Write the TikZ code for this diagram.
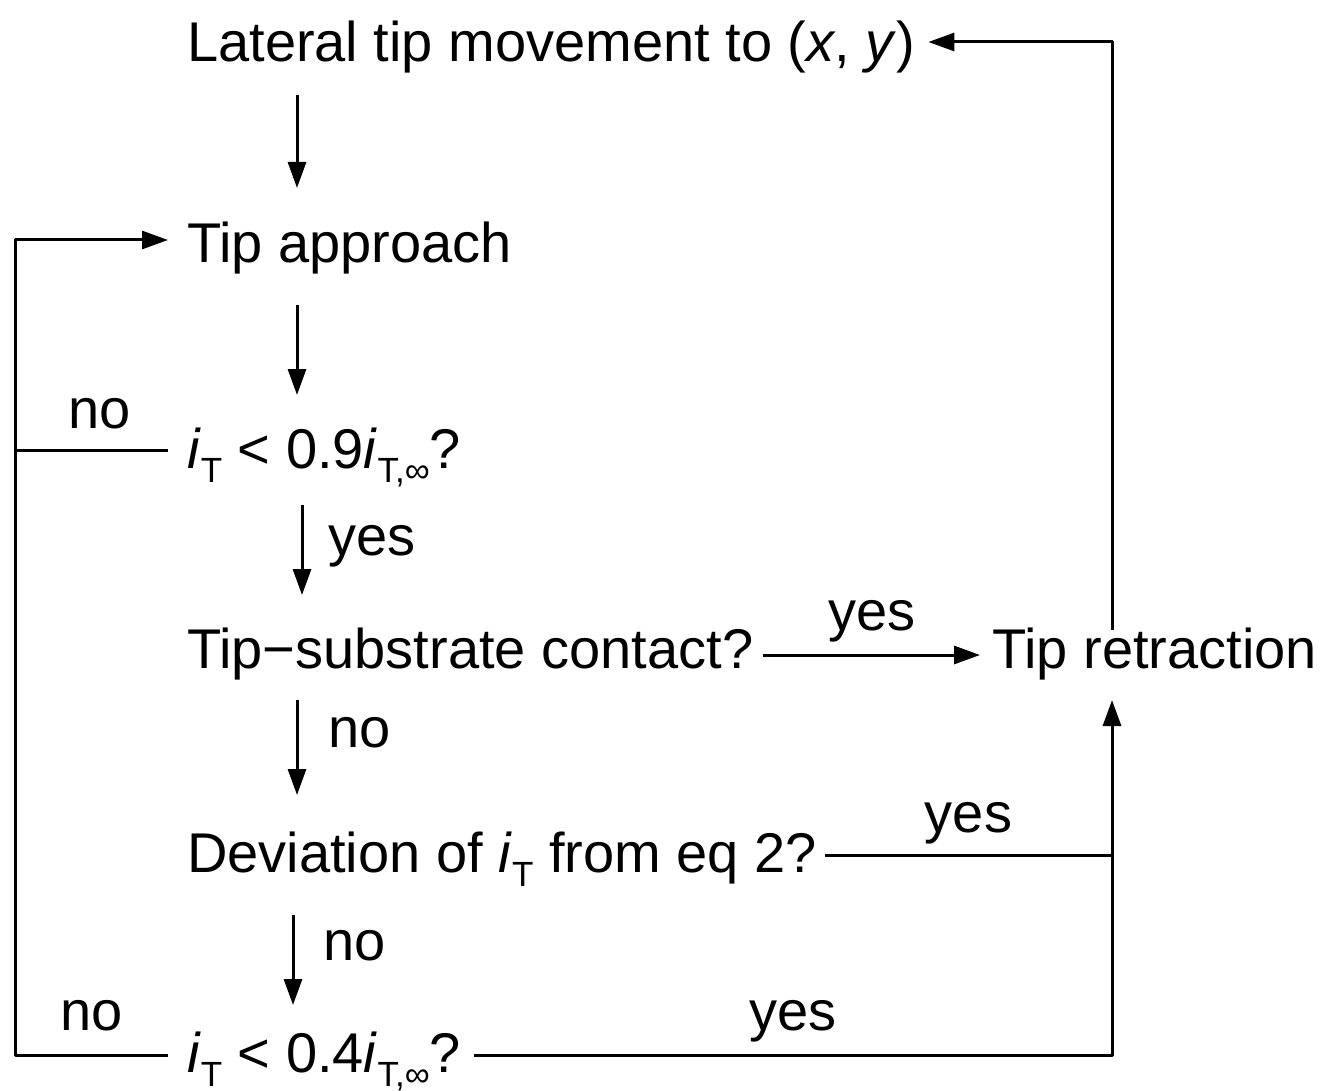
\documentclass[tikz,border=0pt]{standalone}
\usepackage{fontspec}
\setmainfont{Liberation Sans}
\usetikzlibrary{arrows.meta}
\newcommand\subT[1]{\raisebox{-0.25em}{\fontsize{35}{35}\selectfont #1}}
\newcommand\iT{\textit{i}\subT{T}}
\newcommand\iTinf{\textit{i}\subT{T,∞}}
\begin{document}
\begin{tikzpicture}[x=1pt,y=-1pt,
  txt/.style={anchor=base west,inner sep=0pt,font=\fontsize{56}{67}\selectfont},
  lbl/.style={inner sep=0pt,font=\fontsize{56}{67}\selectfont},
  line/.style={line width=3pt,line join=round},
  arr/.style={line,-{Triangle[length=26pt,width=18pt]}}]
\useasboundingbox (0,0) rectangle (1321,1091);

% nodes
\node[txt] (lat) at (187,62) {Lateral tip movement to (\textit{x}, \textit{y})};
\node[txt] (app) at (187,262) {Tip approach};
\node[txt] (q1)  at (187,468) {\iT\ < 0.9\iTinf?};
\node[txt] (tsc) at (187,668) {Tip−substrate contact?};
\node[txt] (ret) at (992,668) {Tip retraction};
\node[txt] (dev) at (187,872) {Deviation of \iT\ from eq 2?};
\node[txt] (q2)  at (187,1072) {\iT\ < 0.4\iTinf?};

% helper coordinates
\coordinate (lx) at (15,0);
\coordinate (rx) at ([xshift=120pt]ret.base west);
\coordinate (q1L) at ([xshift=-19pt,yshift=18pt]q1.base west);
\coordinate (q2L) at ([xshift=-19pt,yshift=17pt]q2.base west);
\coordinate (appL) at ([xshift=-19pt,yshift=22pt]app.base west);
\coordinate (latR) at ([xshift=13pt,yshift=20pt]lat.base east);
\coordinate (devR) at ([xshift=8pt,yshift=17pt]dev.base east);
\coordinate (q2R) at ([xshift=13pt,yshift=17pt]q2.base east);

% vertical flow
\draw[arr] ([xshift=110pt,yshift=-33pt]lat.base west) -- ([xshift=110pt,yshift=74pt]app.base west);
\draw[arr] ([xshift=110pt,yshift=-43pt]app.base west) -- ([xshift=110pt,yshift=73pt]q1.base west);
\draw[arr] ([xshift=115pt,yshift=-37pt]q1.base west) --
  node[lbl,anchor=base west,xshift=25pt,yshift=-5pt] {yes}
  ([xshift=115pt,yshift=73pt]tsc.base west);
\draw[arr] ([xshift=110pt,yshift=-32pt]tsc.base west) --
  node[lbl,anchor=base west,xshift=30pt,yshift=0pt] {no}
  ([xshift=110pt,yshift=77pt]dev.base west);
\draw[arr] ([xshift=106pt,yshift=-43pt]dev.base west) --
  node[lbl,anchor=base west,xshift=29pt,yshift=0pt] {no}
  ([xshift=106pt,yshift=67pt]q2.base west);

% yes branches
\draw[arr] ([xshift=10pt,yshift=13pt]tsc.base east) --
  node[lbl,anchor=base,yshift=25pt] {yes}
  ([xshift=-12pt,yshift=13pt]ret.base west);
\draw[line] (devR) -- node[lbl,anchor=base,yshift=23pt] {yes} (devR -| rx);
\draw[arr] (q2R) -- node[lbl,anchor=base,yshift=25pt] {yes} (q2R -| rx)
  -- ([yshift=-32pt]rx |- ret.base);
\draw[arr] ([yshift=38pt]rx |- ret.base) |- (latR);

% no branches
\draw[arr] (q1L) -- node[lbl,anchor=base,xshift=8pt,yshift=22pt] {no} (lx |- q1L) |- (appL);
\draw[line] (q2L) -- node[lbl,anchor=base,yshift=25pt] {no} (lx |- q2L) -- (lx |- q1L);
\end{tikzpicture}
\end{document}
